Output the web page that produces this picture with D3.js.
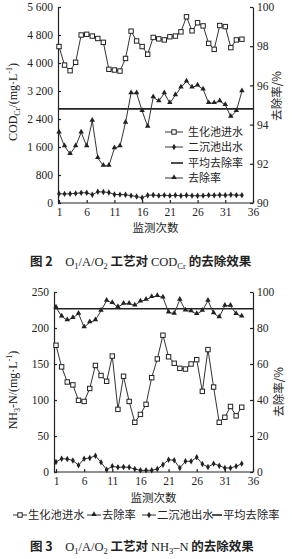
<!DOCTYPE html>
<html>
<head>
<meta charset="utf-8">
<script src="https://cdnjs.cloudflare.com/ajax/libs/d3/7.8.5/d3.min.js"></script>
<style>
  body { margin: 0; background: #fff; }
  svg text { font-family: "Liberation Serif", "Noto Sans CJK SC", serif; fill: #222; }
  .axis path, .axis line { stroke: #222; stroke-width: 1.2px; }
  .axis text { font-size: 11.5px; }
  .cjk { font-family: "Noto Sans CJK SC", sans-serif; }
  .series { fill: none; stroke: #333; stroke-width: 1px; }
</style>
</head>
<body>
<div id="chart"></div>
<script>
// monitoring runs
const runs = [1,2,3,4,5,6,7,8,9,10,11,12,13,14,15,16,17,18,19,20,21,22,23,24,25,26,27,28,29,30,31,32,33,34];
const xTicks = [1, 6, 11, 16, 21, 26, 31, 36];

// Fig.2 COD (mg/L) and removal (%)
const codIn = [4470,3940,3780,4020,4800,4820,4770,4700,4590,3820,3800,3770,4130,4910,4630,4470,4250,4730,4690,4660,4750,4770,4890,5320,4920,5150,5060,4560,4390,5070,5040,4440,4660,4680];
const codOut = [265,260,262,275,290,292,235,320,315,300,245,240,235,210,185,150,220,230,210,225,210,220,205,220,210,205,210,225,220,230,220,235,225,225];
const codRemoval = [93.6,92.9,92.5,92.9,93.6,92.9,94.2,92.3,91.9,91.9,92.8,92.9,94.1,95.6,95.6,94.7,93.9,95.4,95.2,95.6,95.1,95.5,95.9,96.2,95.9,96.0,95.8,95.1,95.1,95.2,95.0,94.4,94.7,95.7];
const codAvgRemoval = 94.8;
const codLeftTicks = [0,800,1600,2400,3200,4000,4800,5600];
const codRightTicks = [90,92,94,96,98,100];

// Fig.3 NH3-N (mg/L) and removal (%)
const nhIn = [176,146,125,121,99.5,98,116,148,134,126,161,87,133,98,69,80,94,131,157,190,160,151,144,143,150,156,112,170,118,69,76,91,78,90];
const nhOut = [14,18.5,18,16,9.3,18.5,19.4,22.7,13.4,3.2,7.9,6.5,6.9,6.5,4.2,2.3,2.3,2.3,4.2,10.2,17.1,16.2,5.6,14.8,14.8,20.4,11.1,6.9,11.6,8.8,5.6,5.6,7.9,11.6];
const nhRemoval = [91.5,86.5,84.3,85.6,88,80.4,83.2,84.3,89.6,95.2,93.9,91.7,93.5,93.5,92.6,94.8,95.7,97.2,97.8,97,88.7,88,95.7,89.8,89.3,87.8,89.6,95.2,88.3,86,92.4,92.4,87.8,86.5];
const nhAvgRemoval = 90.7;
const nhLeftTicks = [0,50,100,150,200,250];
const nhRightTicks = [0,20,40,60,80,100];

const names = { inflow: "生化池进水", outflow: "二沉池出水", avg: "平均去除率", removal: "去除率" };

const svg = d3.select("#chart").append("svg").attr("width", 292).attr("height", 559);

const fmtCod = d => d >= 1000 ? Math.floor(d / 1000) + " " + String(d % 1000).padStart(3, "0") : String(d);

function marker(g, type, x, y) {
    if (type === "square") {
        g.append("rect").attr("x", x - 2.2).attr("y", y - 2.2).attr("width", 4.4).attr("height", 4.4)
            .attr("fill", "#fff").attr("stroke", "#222").attr("stroke-width", 1);
    } else if (type === "triangle") {
        g.append("path").attr("d", d3.symbol(d3.symbolTriangle).size(13)())
            .attr("transform", `translate(${x},${y - 0.5})`).attr("fill", "#222");
    } else {
        g.append("path").attr("d", d3.symbol(d3.symbolDiamond).size(12)())
            .attr("transform", `translate(${x},${y})`).attr("fill", "#222");
    }
}

function series(g, x, y, values, type) {
    const line = d3.line().x((d, i) => x(runs[i])).y(d => y(d));
    g.append("path").attr("class", "series").attr("d", line(values));
    values.forEach((v, i) => marker(g, type, x(runs[i]), y(v)));
}

function drawChart(cfg) {
    const g = svg.append("g");
    const x = d3.scaleLinear().domain([1, 36]).range(cfg.xRange);
    const yL = d3.scaleLinear().domain(cfg.leftDomain).range([cfg.bottom, cfg.top]);
    const yR = d3.scaleLinear().domain(cfg.rightDomain).range([cfg.bottom, cfg.rightTop]);

    g.append("g").attr("class", "axis").attr("transform", `translate(0,${cfg.bottom})`)
        .call(d3.axisBottom(x).tickValues(xTicks).tickSize(-3).tickSizeOuter(0).tickPadding(5))
        .select(".domain").attr("d", `M${cfg.left},0H${cfg.right}`);
    g.append("g").attr("class", "axis").attr("transform", `translate(${cfg.left},0)`)
        .call(d3.axisLeft(yL).tickValues(cfg.leftTicks).tickSize(-3).tickSizeOuter(0).tickPadding(5).tickFormat(cfg.leftFmt));
    g.append("g").attr("class", "axis").attr("transform", `translate(${cfg.right},0)`)
        .call(d3.axisRight(yR).tickValues(cfg.rightTicks).tickSize(-3).tickSizeOuter(0).tickPadding(4));

    // average removal line
    g.append("line").attr("x1", cfg.left).attr("x2", cfg.right)
        .attr("y1", yR(cfg.avg)).attr("y2", yR(cfg.avg))
        .attr("stroke", "#222").attr("stroke-width", 1.6);

    series(g, x, yR, cfg.removal, "triangle");
    series(g, x, yL, cfg.inflow, "square");
    series(g, x, yL, cfg.outflow, "diamond");

    g.append("text").attr("class", "cjk").attr("x", (cfg.left + cfg.right) / 2).attr("y", cfg.xLabelY)
        .attr("text-anchor", "middle").attr("font-size", 11.5).text("监测次数");

    // right label
    g.append("text").attr("class", "cjk").attr("text-anchor", "middle").attr("font-size", 11.5)
        .attr("transform", `translate(${cfg.rightLabel[0]},${cfg.rightLabel[1]}) rotate(-90)`)
        .text("去除率/%");

    // left label with sub/superscripts
    const ll = g.append("text").attr("text-anchor", "middle").attr("font-size", 12)
        .attr("transform", `translate(${cfg.leftLabel[0]},${cfg.leftLabel[1]}) rotate(-90)`);
    cfg.leftLabelParts.forEach(p => {
        const t = ll.append("tspan").text(p.t);
        if (p.sub) t.attr("font-size", 8).attr("dy", 3);
        if (p.sup) t.attr("font-size", 8).attr("dy", -5);
        if (p.back) t.attr("dy", p.back);
    });
    return g;
}

const g1 = drawChart({
    left: 58, right: 253, top: 7, bottom: 203, rightTop: 7,
    xRange: [59, 253],
    leftDomain: [0, 5600], rightDomain: [90, 100],
    leftTicks: codLeftTicks, rightTicks: codRightTicks, leftFmt: fmtCod,
    inflow: codIn, outflow: codOut, removal: codRemoval, avg: codAvgRemoval,
    xLabelY: 232, rightLabel: [281, 96], leftLabel: [17, 102],
    leftLabelParts: [{t: "COD"}, {t: "Cr", sub: true}, {t: "/(mg·L", back: -3}, {t: "-1", sup: true}, {t: ")", back: 5}]
});

const g2 = drawChart({
    left: 54, right: 253, top: 292, bottom: 472, rightTop: 292,
    xRange: [56, 253],
    leftDomain: [0, 250], rightDomain: [0, 100],
    leftTicks: nhLeftTicks, rightTicks: nhRightTicks, leftFmt: d => d,
    inflow: nhIn, outflow: nhOut, removal: nhRemoval, avg: nhAvgRemoval,
    xLabelY: 502, rightLabel: [283, 392], leftLabel: [17, 390],
    leftLabelParts: [{t: "NH"}, {t: "3", sub: true}, {t: "-N/(mg·L", back: -3}, {t: "-1", sup: true}, {t: ")", back: 5}]
});

// legend fig.2 (stacked)
const leg1 = [
    {name: names.inflow, type: "square", y: 132},
    {name: names.outflow, type: "diamond", y: 147},
    {name: names.avg, type: "avg", y: 163},
    {name: names.removal, type: "triangle", y: 178}
];
leg1.forEach(d => {
    if (d.type === "avg") {
        g1.append("line").attr("x1", 171).attr("x2", 183).attr("y1", d.y).attr("y2", d.y)
            .attr("stroke", "#222").attr("stroke-width", 1.6);
    } else {
        g1.append("line").attr("x1", 165).attr("x2", 183).attr("y1", d.y).attr("y2", d.y)
            .attr("stroke", "#333").attr("stroke-width", 1);
        marker(g1, d.type, 174, d.y);
    }
    g1.append("text").attr("class", "cjk").attr("x", 188).attr("y", d.y + 4)
        .attr("font-size", 11).text(d.name);
});

// legend fig.3 (single row)
const leg2 = [
    {name: names.inflow, type: "square", x: 13},
    {name: names.removal, type: "triangle", x: 87},
    {name: names.outflow, type: "diamond", x: 142},
    {name: names.avg, type: "avg", x: 212}
];
leg2.forEach(d => {
    const y = 515;
    if (d.type === "avg") {
        g2.append("line").attr("x1", d.x).attr("x2", d.x + 10).attr("y1", y).attr("y2", y)
            .attr("stroke", "#222").attr("stroke-width", 1.6);
        g2.append("text").attr("class", "cjk").attr("x", d.x + 11).attr("y", y + 4)
            .attr("font-size", 11.3).text(d.name);
    } else {
        g2.append("line").attr("x1", d.x).attr("x2", d.x + 14).attr("y1", y).attr("y2", y)
            .attr("stroke", "#333").attr("stroke-width", 1);
        marker(g2, d.type, d.x + 7, y);
        g2.append("text").attr("class", "cjk").attr("x", d.x + 15).attr("y", y + 4)
            .attr("font-size", 11.3).text(d.name);
    }
});

// captions
function caption(y, num, parts) {
    const t = svg.append("text").attr("x", 30).attr("y", y).attr("font-size", 12.5);
    t.append("tspan").attr("class", "cjk").attr("font-weight", "bold").text("图 " + num + "\u2003");
    parts.forEach(p => {
        const s = t.append("tspan").text(p.t);
        if (p.cjk) s.attr("class", "cjk").attr("font-weight", "bold");
        if (p.sub) s.attr("font-size", 8.5).attr("dy", 3);
        if (p.back) s.attr("dy", p.back);
    });
}
caption(266, 2, [
    {t: "O"}, {t: "1", sub: true}, {t: "/A/O", back: -3}, {t: "2", sub: true},
    {t: " 工艺对 ", cjk: true, back: -3}, {t: "COD"}, {t: "Cr", sub: true},
    {t: " 的去除效果", cjk: true, back: -3}
]);
caption(551, 3, [
    {t: "O"}, {t: "1", sub: true}, {t: "/A/O", back: -3}, {t: "2", sub: true},
    {t: " 工艺对 ", cjk: true, back: -3}, {t: "NH"}, {t: "3", sub: true},
    {t: "–N", back: -3}, {t: " 的去除效果", cjk: true}
]);
</script>
</body>
</html>
